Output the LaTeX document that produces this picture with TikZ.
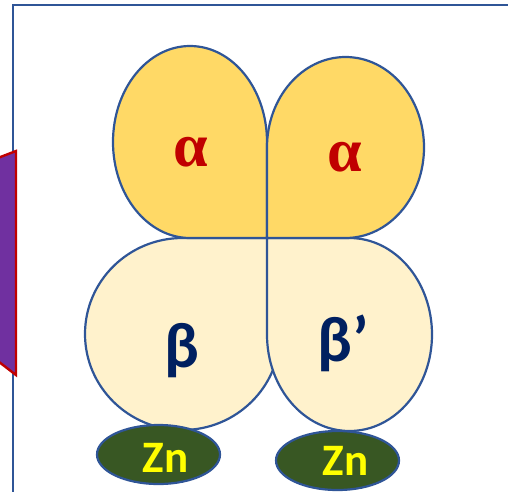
\documentclass[tikz,border=0pt]{standalone}
\usepackage{fontspec}
\setmainfont{Liberation Serif}
\newfontfamily\calfont{Carlito}
\usetikzlibrary{shapes.geometric}
\definecolor{outl}{HTML}{2F5597}
\definecolor{alphafill}{HTML}{FFD966}
\definecolor{betafill}{HTML}{FFF2CC}
\definecolor{alphatxt}{HTML}{C00000}
\definecolor{betatxt}{HTML}{002060}
\definecolor{znfill}{HTML}{385723}
\definecolor{zntxt}{HTML}{FFFF00}
\definecolor{purp}{HTML}{7030A0}
\definecolor{redl}{HTML}{C00000}
\tikzset{
  lobe/.style={draw=outl, line width=2.2pt, line join=round},
  alobe/.style={lobe, fill=alphafill},
  blobe/.style={lobe, fill=betafill},
  atext/.style={text=alphatxt, font=\fontsize{62}{62}\selectfont\bfseries, inner sep=0pt},
  btext/.style={text=betatxt, font=\calfont\bfseries\fontsize{64}{64}\selectfont, inner sep=0pt},
  zn/.style={ellipse, draw=outl, fill=znfill, line width=2.2pt, minimum width=123pt, minimum height=59pt, inner sep=0pt},
  zntext/.style={text=zntxt, font=\calfont\bfseries\fontsize{45}{45}\selectfont, inner sep=0pt},
}
\begin{document}
\begin{tikzpicture}[x=1pt, y=1pt, yscale=-1]
\useasboundingbox (0,0) rectangle (508,491);
% frame
\draw[outl, line width=2.4pt] (13,495) -- (13,5) -- (512,5);
% purple side shape
\draw[fill=purp, draw=redl, line width=2.4pt, line join=miter] (16,151) -- (16,375) -- (-10,355) -- (-10,161) -- cycle;
% beta lobes
\draw[blobe] (280,238) -- (280,334) arc[start angle=0, end angle=270, x radius=97.5, y radius=96] -- cycle;
\draw[blobe] (267,238) -- (349.5,238) arc[start angle=-90, end angle=180, x radius=82.5, y radius=96.5] -- cycle;
% alpha lobes
\draw[alobe] (267,238) -- (190,238) arc[start angle=90, end angle=360, x radius=77, y radius=96] -- cycle;
\draw[alobe] (267,238) -- (267,147.5) arc[start angle=180, end angle=450, x radius=78.5, y radius=90.5] -- cycle;
% labels
\node[atext] (a1) at (191,152) {α};
\node[atext] (a2) at (345,157) {α};
\node[btext] (b1) at (182,351) {β};
\node[btext] (b2) at (343,343) {β’};
% zinc
\node[zn] (zn1) at (158.5,454.5) {};
\node[zn] (zn2) at (337.5,460.5) {};
\node[zntext] (t1) at (165.5,458) {Zn};
\node[zntext] (t2) at (345.5,460.5) {Zn};
\end{tikzpicture}
\end{document}
